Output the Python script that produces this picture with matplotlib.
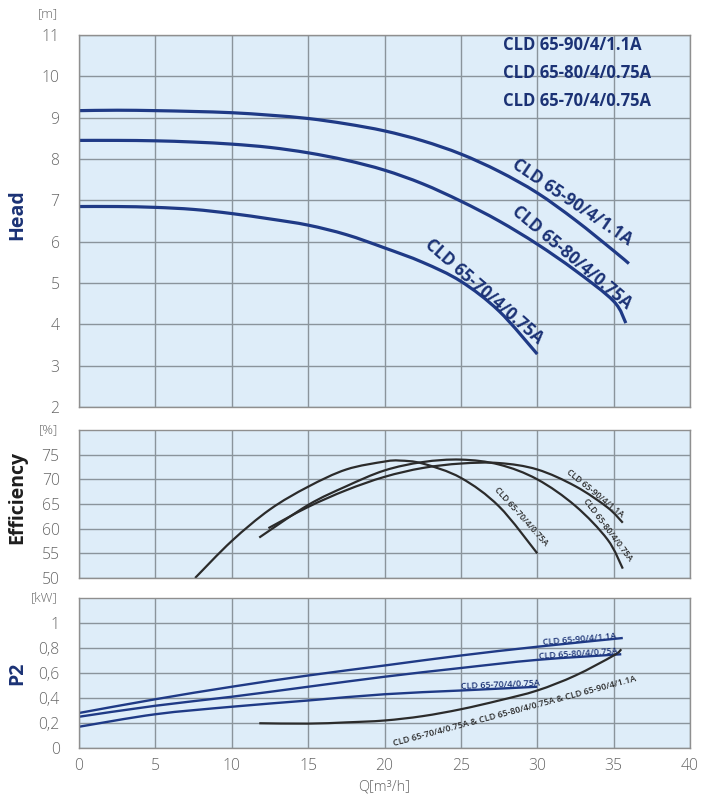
import matplotlib
matplotlib.use("Agg")
import matplotlib.pyplot as plt
from matplotlib.path import Path
from matplotlib.patches import PathPatch
import numpy as np

# ---------------- data ----------------
models = ["CLD 65-90/4/1.1A", "CLD 65-80/4/0.75A", "CLD 65-70/4/0.75A"]

# Head curves (Q [m3/h], H [m])
q_head_90 = [0, 2.5, 5, 7.5, 10, 12.5, 15, 17.5, 20, 22.5, 25, 27.5, 30, 32.5, 35, 36]
h_head_90 = [9.17, 9.18, 9.17, 9.15, 9.12, 9.06, 8.98, 8.85, 8.68, 8.44, 8.12, 7.7, 7.18, 6.52, 5.78, 5.47]
q_head_80 = [0, 2.5, 5, 7.5, 10, 12.5, 15, 17.5, 20, 22.5, 25, 27.5, 30, 32.5, 35, 35.8]
h_head_80 = [8.45, 8.45, 8.44, 8.41, 8.36, 8.28, 8.15, 7.97, 7.73, 7.4, 6.98, 6.5, 5.94, 5.3, 4.56, 4.03]
q_head_70 = [0, 2.5, 5, 7.5, 10, 12.5, 15, 17.5, 20, 22.5, 25, 27.5, 30]
h_head_70 = [6.85, 6.85, 6.83, 6.78, 6.68, 6.55, 6.4, 6.17, 5.85, 5.5, 5.04, 4.32, 3.28]

# Efficiency curves (Q, eta %)
q_eff_90 = [12.4, 15, 17.5, 20, 22.5, 25, 27.5, 30, 32.5, 34.6, 35.6]
e_eff_90 = [60.1, 64.4, 67.8, 70.5, 72.3, 73.2, 73.3, 72.0, 68.6, 64.3, 61.2]
q_eff_80 = [11.8, 15, 17.5, 20, 22.5, 25, 27.5, 30, 32.5, 34.6, 35.6]
e_eff_80 = [58.2, 64.8, 68.6, 71.8, 73.5, 74.0, 73.0, 70.0, 64.6, 57.8, 51.9]
q_eff_70 = [7.6, 10, 12.5, 15, 17.5, 20, 21, 22.5, 25, 27.5, 30]
e_eff_70 = [50.0, 57.5, 63.9, 68.5, 72.0, 73.6, 73.8, 73.2, 70.3, 64.5, 55.0]

# Power P2 curves (Q, kW)
q_p2_90 = [0, 5, 10, 15, 20, 25, 30, 35.6]
p_p2_90 = [0.28, 0.39, 0.49, 0.58, 0.66, 0.74, 0.81, 0.88]
q_p2_80 = [0, 5, 10, 15, 20, 25, 30, 35.5]
p_p2_80 = [0.25, 0.338, 0.41, 0.49, 0.57, 0.64, 0.705, 0.75]
q_p2_70 = [0, 5, 10, 15, 20, 25, 30]
p_p2_70 = [0.17, 0.27, 0.33, 0.38, 0.43, 0.46, 0.49]
q_p2_all = [11.8, 15, 17.5, 20, 22.5, 25, 27.5, 30, 32.5, 35, 35.5]
p_p2_all = [0.198, 0.195, 0.205, 0.22, 0.255, 0.31, 0.38, 0.46, 0.58, 0.74, 0.79]

x_ticks = [0, 5, 10, 15, 20, 25, 30, 35, 40]
head_ticks = [2, 3, 4, 5, 6, 7, 8, 9, 10, 11]
eff_ticks = [50, 55, 60, 65, 70, 75]
p2_ticks = [0, 0.2, 0.4, 0.6, 0.8, 1.0]
p2_tick_labels = ["0", "0,2", "0,4", "0,6", "0,8", "1"]

# ---------------- style ----------------
BG = "#deedf9"
GRID = "#8a949c"
SPINE = "#8f8f8f"
NAVY = "#1b3275"
NAVY_LINE = "#1f3a86"
DARK = "#2b2b2b"
TICK_C = "#666666"
FONT = "Open Sans"

plt.rcParams['font.family'] = [FONT, 'DejaVu Sans']


def smooth_line(ax, xs, ys, **kw):
    """Draw a smooth curve through the points (Catmull-Rom as cubic Beziers)."""
    p = np.column_stack([xs, ys]).astype(float)
    n = len(p)
    verts = [p[0]]
    codes = [Path.MOVETO]
    for i in range(n - 1):
        p0 = p[i - 1] if i > 0 else p[i]
        p1, p2 = p[i], p[i + 1]
        p3 = p[i + 2] if i + 2 < n else p[i + 1]
        c1 = p1 + (p2 - p0) / 6.0
        c2 = p2 - (p3 - p1) / 6.0
        verts += [c1, c2, p2]
        codes += [Path.CURVE4] * 3
    patch = PathPatch(Path(verts, codes), fill=False, transform=ax.transData,
                      capstyle='butt', joinstyle='round', **kw)
    ax.add_patch(patch)


fig = plt.figure(figsize=(7.02, 8.01), dpi=100)
L, W = 79 / 702, 611 / 702


def ax_at(top_px, bot_px):
    return fig.add_axes([L, 1 - bot_px / 801, W, (bot_px - top_px) / 801])


ax_h = ax_at(35, 407)
ax_e = ax_at(430, 578)
ax_p = ax_at(598, 748)

for ax in (ax_h, ax_e, ax_p):
    ax.set_facecolor(BG)
    ax.set_xlim(0, 40)
    ax.set_xticks(x_ticks)
    ax.grid(True, color=GRID, linewidth=1.0)
    ax.set_axisbelow(True)
    for s in ax.spines.values():
        s.set_color(SPINE)
        s.set_linewidth(1.0)
    ax.tick_params(length=0, labelsize=11.3, labelcolor=TICK_C, pad=14)
    ax.tick_params(axis='x', pad=7)
    for lab in ax.get_xticklabels() + ax.get_yticklabels():
        lab.set_fontweight('light')

ax_h.tick_params(axis='x', labelbottom=False)
ax_e.tick_params(axis='x', labelbottom=False)

# Head
ax_h.set_ylim(2, 11)
ax_h.set_yticks(head_ticks)
for q, h in ((q_head_90, h_head_90), (q_head_80, h_head_80), (q_head_70, h_head_70)):
    smooth_line(ax_h, q, h, edgecolor=NAVY_LINE, linewidth=2.3)

lab_kw = dict(color=NAVY, fontsize=12.2, fontweight='bold', ha='left', va='baseline',
              rotation_mode='anchor')
ax_h.text(28.3, 7.8, models[0], rotation=-34, **lab_kw)
ax_h.text(28.3, 6.7, models[1], rotation=-40, **lab_kw)
ax_h.text(22.6, 5.9, models[2], rotation=-41, **lab_kw)

for i, m in enumerate(models):
    fig.text(503 / 702, 1 - (45 + 28 * i) / 801, m, color=NAVY, fontsize=12,
             fontweight='bold', ha='left', va='center')

# Efficiency
ax_e.set_ylim(50, 80)
ax_e.set_yticks(eff_ticks)
for q, e in ((q_eff_90, e_eff_90), (q_eff_80, e_eff_80), (q_eff_70, e_eff_70)):
    smooth_line(ax_e, q, e, edgecolor=DARK, linewidth=1.6)

small_kw = dict(color=DARK, fontsize=6.2, fontweight='semibold', ha='left', va='baseline',
                rotation_mode='anchor')
ax_e.text(31.9, 71.3, models[0], rotation=-39, **small_kw)
ax_e.text(33.0, 65.6, models[1], rotation=-53, **small_kw)
ax_e.text(27.2, 67.8, models[2], rotation=-48, **small_kw)

# P2
ax_p.set_ylim(0, 1.2)
ax_p.set_yticks(p2_ticks)
ax_p.set_yticklabels(p2_tick_labels)
for lab in ax_p.get_yticklabels():
    lab.set_fontweight('light')
for q, p in ((q_p2_90, p_p2_90), (q_p2_80, p_p2_80), (q_p2_70, p_p2_70)):
    smooth_line(ax_p, q, p, edgecolor=NAVY_LINE, linewidth=1.7)
smooth_line(ax_p, q_p2_all, p_p2_all, edgecolor=DARK, linewidth=1.6)

p_kw = dict(color=NAVY, fontsize=6.5, fontweight='semibold', ha='left', va='baseline',
            rotation_mode='anchor')
ax_p.text(30.4, 0.822, models[0], rotation=5, **p_kw)
ax_p.text(30.1, 0.715, models[1], rotation=4, **p_kw)
ax_p.text(25.0, 0.472, models[2], rotation=2.5, **p_kw)
ax_p.text(20.6, 0.02, "CLD 65-70/4/0.75A & CLD 65-80/4/0.75A & CLD 65-90/4/1.1A",
          rotation=15, color=DARK, fontsize=6.4, fontweight='semibold', ha='left',
          va='baseline', rotation_mode='anchor')

ax_p.set_xlabel("Q[m³/h]", fontsize=10.5, color=TICK_C, labelpad=4, fontweight='light')

# Units
for txt, ypx in (("[m]", 14), ("[%]", 430), ("[kW]", 598)):
    fig.text(58 / 702, 1 - ypx / 801, txt, fontsize=9.5, color=TICK_C, ha='right',
             va='center', fontweight='light')

# Y labels
fig.text(17 / 702, 1 - 215 / 801, "Head", rotation=90, fontsize=14, fontweight='bold',
         color=NAVY, ha='center', va='center')
fig.text(17 / 702, 1 - 497 / 801, "Efficiency", rotation=90, fontsize=14, fontweight='bold',
         color="#1e1e1e", ha='center', va='center')
fig.text(17 / 702, 1 - 673 / 801, "P2", rotation=90, fontsize=14, fontweight='bold',
         color=NAVY, ha='center', va='center')

fig.savefig("out.png", dpi=100, facecolor="white")
